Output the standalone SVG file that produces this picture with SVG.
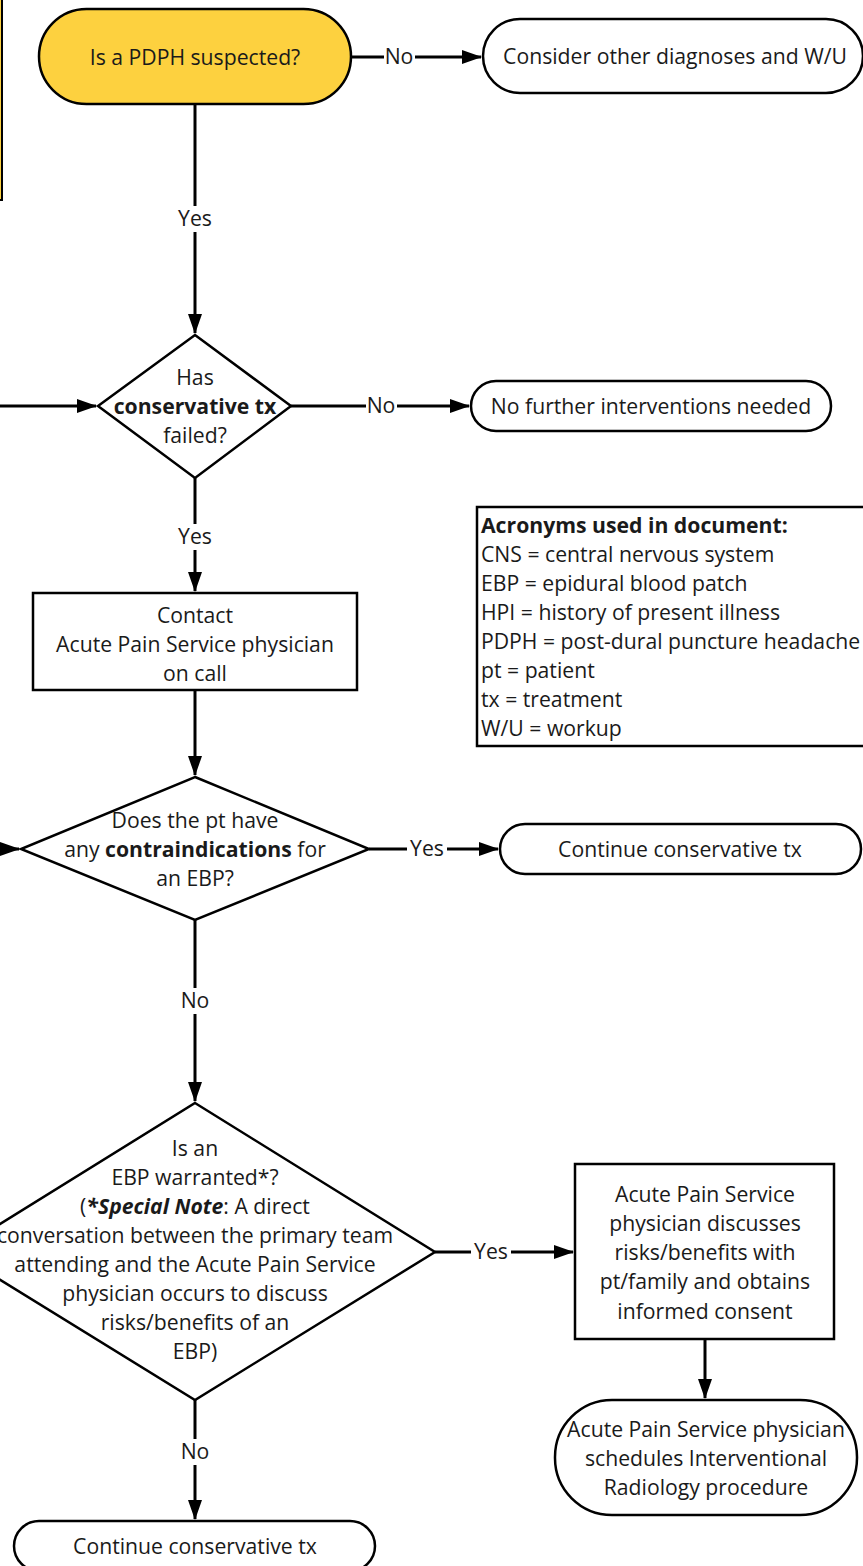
<svg xmlns="http://www.w3.org/2000/svg" width="863" height="1566" viewBox="0 0 863 1566">
<defs>
<marker id="ah" markerUnits="userSpaceOnUse" markerWidth="20" markerHeight="16" refX="19" refY="8" orient="auto">
<path d="M0,1 L20,8 L0,15 Z" fill="#000"/>
</marker>
<style>
.s{fill:#fff;stroke:#000;stroke-width:2.5}
.y{fill:#fdd13f;stroke:#000;stroke-width:2.5}
.c{fill:none;stroke:#000;stroke-width:3}
.t{font-family:"Open Sans","Noto Sans",sans-serif;font-size:21.2px;fill:#1a1a1a;text-anchor:middle}
.l{font-family:"Open Sans","Noto Sans",sans-serif;font-size:21.2px;fill:#1a1a1a}
.b{font-weight:bold}
.lb{fill:#fff}
</style>
</defs>
<rect width="863" height="1566" fill="#fff"/>
<g id="sidebar">
<rect x="-100" y="-10" width="102" height="210" fill="#fdd13f" stroke="#000" stroke-width="2"/>
</g>
<g id="connectors">
<path class="c" d="M351,57 H481" marker-end="url(#ah)"/>
<path class="c" d="M195,104 V333" marker-end="url(#ah)"/>
<path class="c" d="M-5,406 H96" marker-end="url(#ah)"/>
<path class="c" d="M291,406 H469" marker-end="url(#ah)"/>
<path class="c" d="M195,478 V591" marker-end="url(#ah)"/>
<path class="c" d="M195,690 V775" marker-end="url(#ah)"/>
<path class="c" d="M-30,849 H19" marker-end="url(#ah)"/>
<path class="c" d="M369,849 H498" marker-end="url(#ah)"/>
<path class="c" d="M195,920 V1101" marker-end="url(#ah)"/>
<path class="c" d="M435,1252 H573" marker-end="url(#ah)"/>
<path class="c" d="M705,1339 V1398" marker-end="url(#ah)"/>
<path class="c" d="M195,1400 V1519" marker-end="url(#ah)"/>
<rect class="lb" x="384" y="45" width="31" height="24"/>
<text class="t" x="399" y="64">No</text>
<rect class="lb" x="175" y="206" width="40" height="26"/>
<text class="t" x="195" y="226">Yes</text>
<rect class="lb" x="366" y="394" width="31" height="24"/>
<text class="t" x="381" y="413">No</text>
<rect class="lb" x="175" y="524" width="40" height="26"/>
<text class="t" x="195" y="544">Yes</text>
<rect class="lb" x="407" y="837" width="40" height="24"/>
<text class="t" x="427" y="856">Yes</text>
<rect class="lb" x="179" y="988" width="31" height="26"/>
<text class="t" x="195" y="1008">No</text>
<rect class="lb" x="471" y="1240" width="40" height="24"/>
<text class="t" x="491" y="1259">Yes</text>
<rect class="lb" x="179" y="1439" width="31" height="26"/>
<text class="t" x="195" y="1459">No</text>
</g>
<g id="n-pdph">
<rect class="y" x="39" y="9" width="312" height="95" rx="47.5"/>
<text class="t" x="195" y="65">Is a PDPH suspected?</text>
</g>
<g id="n-other">
<rect class="s" x="483" y="19" width="380" height="74" rx="37"/>
<text class="t" x="675" y="64">Consider other diagnoses and W/U</text>
</g>
<g id="n-conservative">
<polygon class="s" points="195,335 291,406 195,478 98,406"/>
<text class="t" x="195" y="385">Has</text>
<text class="t b" x="195" y="414">conservative tx</text>
<text class="t" x="195" y="443">failed?</text>
</g>
<g id="n-nofurther">
<rect class="s" x="471" y="381" width="360" height="50" rx="25"/>
<text class="t" x="651" y="414">No further interventions needed</text>
</g>
<g id="n-contact">
<rect class="s" x="33" y="593" width="324" height="97"/>
<text class="t" x="195" y="623">Contact</text>
<text class="t" x="195" y="652">Acute Pain Service physician</text>
<text class="t" x="195" y="681">on call</text>
</g>
<g id="n-contra">
<polygon class="s" points="195,777 369,849 195,920 21,849"/>
<text class="t" x="195" y="828">Does the pt have</text>
<text class="t" x="195" y="857">any <tspan class="b">contraindications</tspan> for</text>
<text class="t" x="195" y="886">an EBP?</text>
</g>
<g id="n-continue1">
<rect class="s" x="500" y="824" width="361" height="50" rx="25"/>
<text class="t" x="680" y="857">Continue conservative tx</text>
</g>
<g id="n-acronyms">
<rect class="s" x="477" y="507" width="400" height="239"/>
<text class="l b" x="481" y="533">Acronyms used in document:</text>
<text class="l" x="481" y="562">CNS = central nervous system</text>
<text class="l" x="481" y="591">EBP = epidural blood patch</text>
<text class="l" x="481" y="620">HPI = history of present illness</text>
<text class="l" x="481" y="649">PDPH = post-dural puncture headache</text>
<text class="l" x="481" y="678">pt = patient</text>
<text class="l" x="481" y="707">tx = treatment</text>
<text class="l" x="481" y="736">W/U = workup</text>
</g>
<g id="n-warranted">
<polygon class="s" points="195,1103 435,1252 195,1400 -45,1252"/>
<text class="t" x="195" y="1156">Is an</text>
<text class="t" x="195" y="1185">EBP warranted*?</text>
<text class="t" x="195" y="1214">(<tspan class="b" font-style="italic">*Special Note</tspan>: A direct</text>
<text class="t" x="195" y="1243">conversation between the primary team</text>
<text class="t" x="195" y="1272">attending and the Acute Pain Service</text>
<text class="t" x="195" y="1301">physician occurs to discuss</text>
<text class="t" x="195" y="1330">risks/benefits of an</text>
<text class="t" x="195" y="1359">EBP)</text>
</g>
<g id="n-discuss">
<rect class="s" x="575" y="1164" width="259" height="175"/>
<text class="t" x="705" y="1202">Acute Pain Service</text>
<text class="t" x="705" y="1231">physician discusses</text>
<text class="t" x="705" y="1260">risks/benefits with</text>
<text class="t" x="705" y="1289">pt/family and obtains</text>
<text class="t" x="705" y="1319">informed consent</text>
</g>
<g id="n-schedule">
<rect class="s" x="555" y="1400" width="302" height="115" rx="57"/>
<text class="t" x="706" y="1437">Acute Pain Service physician</text>
<text class="t" x="706" y="1466">schedules Interventional</text>
<text class="t" x="706" y="1495">Radiology procedure</text>
</g>
<g id="n-continue2">
<rect class="s" x="14" y="1521" width="361" height="50" rx="25"/>
<text class="t" x="195" y="1554">Continue conservative tx</text>
</g>
</svg>
